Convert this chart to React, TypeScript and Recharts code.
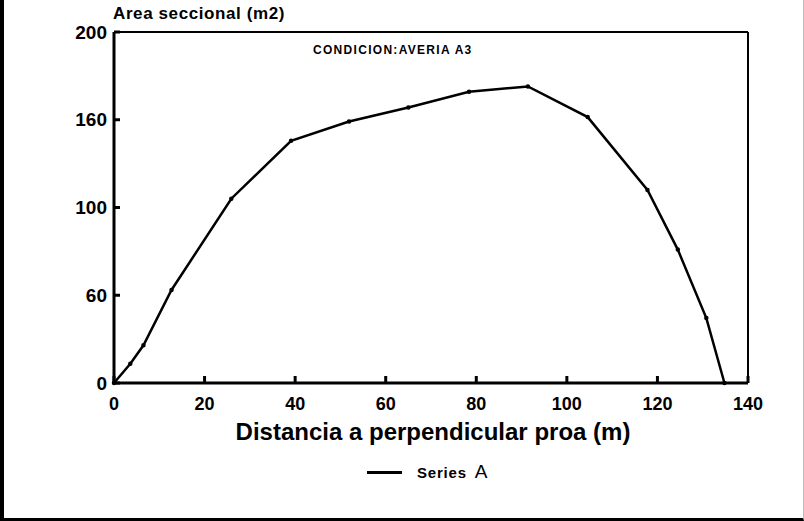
import React from 'react';
import { LineChart, Line, XAxis, YAxis, ReferenceLine } from 'recharts';

const distances = [0, 3.6, 6.5, 12.7, 25.9, 39.1, 51.9, 65, 78.4, 91.4, 104.6, 117.8, 124.5, 130.8, 134.8];
const areas = [0, 11, 21.5, 53, 105, 138, 149, 157, 166, 169, 151.5, 110, 76, 37, 0];

const xTicks = [0, 20, 40, 60, 80, 100, 120, 140];
const yTicks = [0, 50, 100, 150, 200];
// labels as printed on the scanned axis
const yTickLabels = ['0', '60', '100', '160', '200'];

const data = distances.map((d, i) => ({ x: d, y: areas[i] }));

const font = '"Liberation Sans", Arial, sans-serif';

export default function App() {
  return (
    <div
      style={{
        position: 'absolute',
        top: 0,
        left: 0,
        width: 804,
        height: 521,
        background: '#fff',
        fontFamily: font,
        boxSizing: 'border-box',
        borderLeft: '4px solid #000',
        borderBottom: '3px solid #000',
        borderRight: '1px solid #bbb',
      }}
    >
      <div style={{ position: 'absolute', left: -4, top: 0 }}>
        <LineChart width={804} height={521} data={data} margin={{ top: 32, right: 56, left: 0, bottom: 108 }}>
          <XAxis
            dataKey="x"
            type="number"
            domain={[0, 140]}
            ticks={xTicks}
            height={30}
            stroke="#000"
            strokeWidth={3}
            tickSize={-7}
            tickMargin={21}
            tick={{ fill: '#000', fontSize: 18, fontWeight: 700, fontFamily: font }}
          />
          <YAxis
            type="number"
            domain={[0, 200]}
            ticks={yTicks}
            width={114}
            stroke="#000"
            strokeWidth={3}
            tickSize={-6}
            tickMargin={13}
            tickFormatter={(v: number) => yTickLabels[yTicks.indexOf(v)] ?? String(v)}
            tick={{ fill: '#000', fontSize: 19, fontWeight: 700, fontFamily: font }}
          />
          <ReferenceLine y={200} stroke="#000" strokeWidth={2} />
          <ReferenceLine x={140} stroke="#000" strokeWidth={2} />
          <Line
            name="Series A"
            type="linear"
            dataKey="y"
            stroke="#000"
            strokeWidth={2.5}
            dot={{ r: 1, fill: '#000', stroke: '#000' }}
            isAnimationActive={false}
          />
        </LineChart>
      </div>
      <div
        style={{
          position: 'absolute',
          left: 109,
          top: 4,
          fontSize: 17,
          fontWeight: 700,
          letterSpacing: 0.6,
          color: '#000',
        }}
      >
        Area seccional (m2)
      </div>
      <div
        style={{
          position: 'absolute',
          left: 309,
          top: 43,
          fontSize: 12,
          fontWeight: 900,
          letterSpacing: 1.3,
          color: '#000',
        }}
      >
        CONDICION:AVERIA A3
      </div>
      <div
        style={{
          position: 'absolute',
          left: 0,
          width: 858,
          top: 418,
          textAlign: 'center',
          fontSize: 24,
          fontWeight: 700,
          color: '#000',
        }}
      >
        Distancia a perpendicular proa (m)
      </div>
      <div
        style={{
          position: 'absolute',
          left: 363,
          top: 461,
          display: 'flex',
          alignItems: 'center',
          color: '#000',
        }}
      >
        <span style={{ display: 'inline-block', width: 35, height: 3, background: '#000', marginRight: 15 }} />
        <span style={{ fontSize: 15, fontWeight: 700, letterSpacing: 0.8 }}>Series</span>
        <span style={{ fontSize: 19, marginLeft: 8 }}>A</span>
      </div>
    </div>
  );
}
